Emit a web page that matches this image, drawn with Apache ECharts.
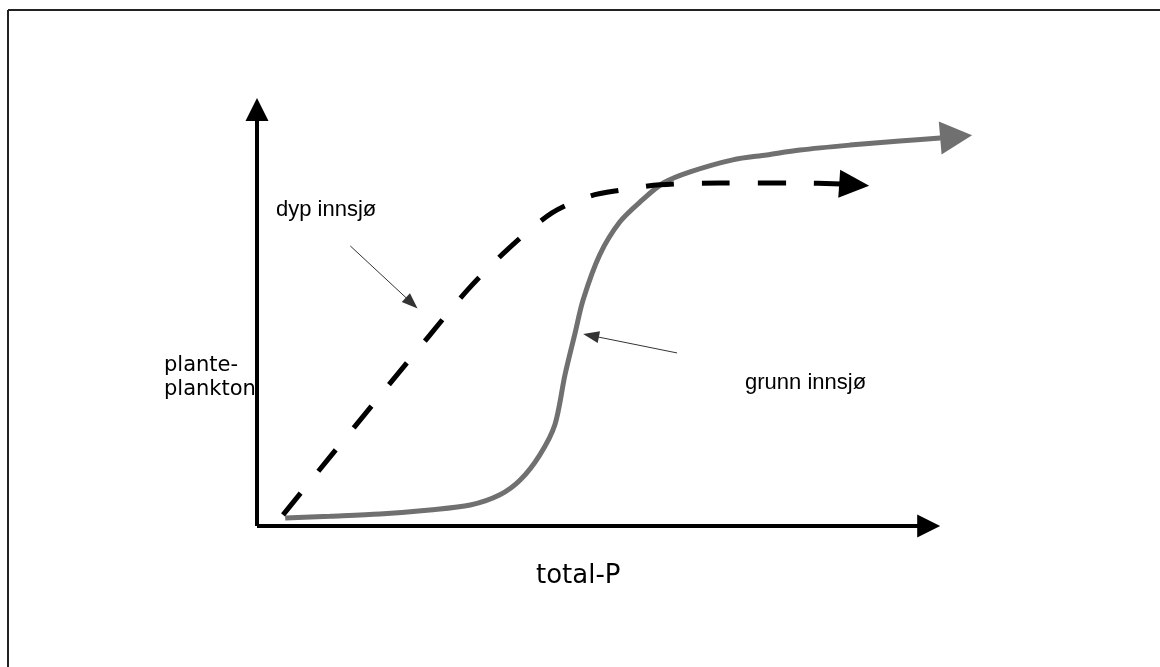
<!DOCTYPE html>
<html>
<head>
<meta charset="utf-8">
<script src="https://cdn.jsdelivr.net/npm/echarts@6/dist/echarts.min.js"></script>
<style>
  html, body { margin: 0; padding: 0; background: #fff; }
  #chart { width: 1160px; height: 667px; }
</style>
</head>
<body>
<div id="chart"></div>
<script>
// schematic: phytoplankton vs total-P, values in 0-100 axis units
const shallowX = [3.9, 10.1, 17.0, 23.9, 29.5, 33.6, 36.4, 39.1, 41.2, 42.6, 44.0, 45.1, 47.4, 50.2, 53.3, 56.2, 59.9, 65.8, 70.5, 75.1, 82.0, 88.9, 94.5]
const shallowY = [1.8, 2.2, 2.7, 3.6, 4.7, 7.0, 10.3, 15.9, 22.7, 33.9, 43.3, 50.7, 60.8, 68.2, 73.1, 76.9, 79.4, 82.1, 83.2, 84.3, 85.4, 86.3, 87.0]
// arrow heads sit centred on these points
const shallowHead = [96.7, 87.3]

const deepX = [3.6, 10.1, 17.0, 23.9, 29.1, 34.6, 40.8, 46.1, 50.2, 55.7, 64.0, 75.1, 80.8]
const deepY = [2.5, 15.5, 29.2, 42.8, 52.9, 61.9, 70.2, 74.0, 75.3, 76.5, 76.9, 76.9, 76.7]
const deepHead = [82.6, 76.5]

const yAxisHead = [0, 93.4]
const xAxisHead = [92.9, 0]

const deepPointer = [[12.9, 62.8], [21.4, 50.0]]
const shallowPointer = [[58.1, 38.8], [46.2, 42.7]]

const labels = {
  y: 'plante-\nplankton',
  x: 'total-P',
  deep: 'dyp innsjø',
  shallow: 'grunn innsjø'
}

const toPairs = (xs, ys) => xs.map((x, i) => [x, ys[i]])

const chart = echarts.init(document.getElementById('chart'))

const arrowLine = (from, to, color, width, size) => ({
  silent: true,
  animation: false,
  symbol: ['none', 'triangle'],
  symbolSize: size,
  label: { show: false },
  lineStyle: { color: color, width: width, type: 'solid' },
  emphasis: { disabled: true },
  data: [[{ coord: from }, { coord: to }]]
})

const shallowData = toPairs(shallowX, shallowY)
const deepData = toPairs(deepX, deepY)

chart.setOption({
  animation: false,
  grid: { left: 257, right: 180, top: 80, bottom: 141 },
  xAxis: { type: 'value', min: 0, max: 100, show: false },
  yAxis: { type: 'value', min: 0, max: 100, show: false },
  graphic: [
    { type: 'line', shape: { x1: 8, y1: 10, x2: 1160, y2: 10 }, style: { stroke: '#222', lineWidth: 2 } },
    { type: 'line', shape: { x1: 8, y1: 10, x2: 8, y2: 667 }, style: { stroke: '#222', lineWidth: 2 } },
    { type: 'text', left: 164, top: 354, style: { text: labels.y, font: '21px "DejaVu Sans"', fill: '#000', lineHeight: 24 } },
    { type: 'text', left: 536, top: 563, style: { text: labels.x, font: '26px "DejaVu Sans"', fill: '#000' } },
    { type: 'text', left: 276, top: 199, style: { text: labels.deep, font: '22px "Liberation Sans"', fill: '#000' } },
    { type: 'text', left: 745, top: 372, style: { text: labels.shallow, font: '22px "Liberation Sans"', fill: '#000' } }
  ],
  series: [
    {
      name: 'axes',
      type: 'line',
      data: [],
      markLine: {
        silent: true,
        animation: false,
        symbol: ['none', 'triangle'],
        symbolSize: [23, 23],
        label: { show: false },
        lineStyle: { color: '#000', width: 4, type: 'solid' },
        data: [
          [{ coord: [0, 0] }, { coord: yAxisHead }],
          [{ coord: [0, 0] }, { coord: xAxisHead }]
        ]
      }
    },
    {
      name: 'grunn innsjø',
      type: 'line',
      data: shallowData,
      showSymbol: false,
      smooth: 0.3,
      lineStyle: { color: '#707070', width: 5 },
      markLine: arrowLine(shallowData[shallowData.length - 1], shallowHead, '#707070', 5, [33, 32])
    },
    {
      name: 'dyp innsjø',
      type: 'line',
      data: deepData,
      showSymbol: false,
      smooth: 0.3,
      lineStyle: { color: '#000', width: 5, type: [28, 28], cap: 'butt' },
      markLine: arrowLine(deepData[deepData.length - 1], deepHead, '#000', 0, [28, 30])
    },
    {
      name: 'pointers',
      type: 'line',
      data: [],
      markLine: {
        silent: true,
        animation: false,
        symbol: ['none', 'triangle'],
        symbolSize: [12, 16],
        label: { show: false },
        lineStyle: { color: '#333', width: 1, type: 'solid' },
        data: [
          [{ coord: deepPointer[0] }, { coord: deepPointer[1] }],
          [{ coord: shallowPointer[0] }, { coord: shallowPointer[1] }]
        ]
      }
    }
  ]
})
</script>
</body>
</html>
